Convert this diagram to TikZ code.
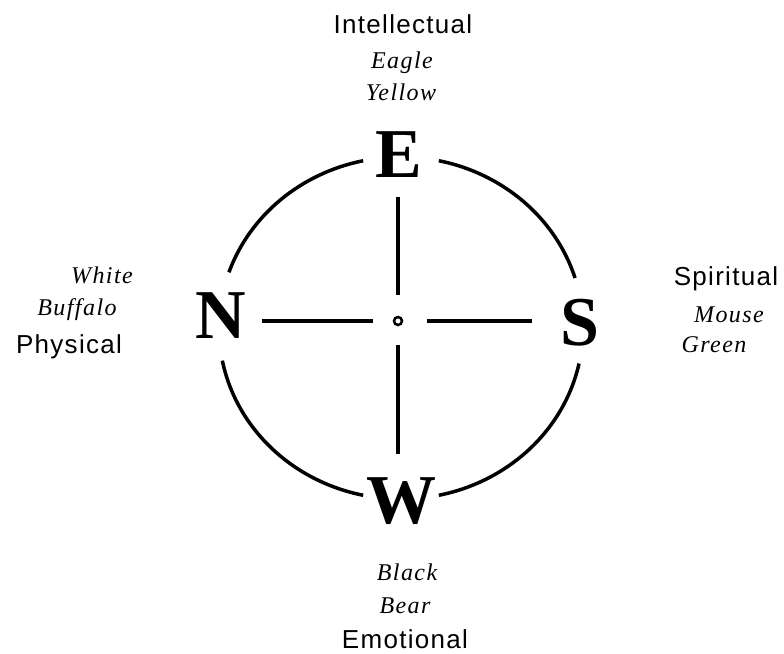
\documentclass[tikz,border=0pt]{standalone}
\usepackage{fontspec}
\setmainfont{Liberation Serif}
\newfontfamily\qualityfont[LetterSpace=5]{Liberation Sans}
\newfontfamily\animalfont[LetterSpace=6]{Liberation Serif}
\usetikzlibrary{calc}

\tikzset{
    compass/.style={font=\fontsize{70}{70}\selectfont\bfseries, inner sep=0pt, anchor=base},
    quality/.style={font=\fontsize{26}{26}\qualityfont, inner sep=0pt, anchor=base},
    animal/.style={font=\fontsize{24}{24}\animalfont\itshape, inner sep=0pt, anchor=base},
    rim/.style={line width=3.5pt},
    spoke/.style={line width=3.5pt},
}

\begin{document}
\begin{tikzpicture}[x=1pt, y=-1pt]
        % --- 1. Parameters ---
        \def\rx{182pt} % rim x radius
        \def\ry{171pt} % rim y radius
        \useasboundingbox (0,0) rectangle (784,653);
        \coordinate (O) at (401,328);

        % --- 2. Compass letters ---
        \node[compass] (E) at (399,177) {E};
        \node[compass] (N) at (221,338) {N};
        \node[compass] (S) at (580,345) {S};
        \node[compass] (W) at (401,523) {W};

        % --- 3. Centre and spokes ---
        \node[circle, draw, line width=2.5pt, fill=white, inner sep=0pt, minimum size=8pt] (dot) at (398,321) {};
        \draw[spoke, shorten <=26pt, shorten >=20pt] (dot.center) -- (dot |- E.south);
        \draw[spoke, shorten <=24pt, shorten >=23pt] (dot.center) -- (dot |- W.north);
        \draw[spoke, shorten <=25pt, shorten >=16pt] (dot.center) -- (dot -| N.east);
        \draw[spoke, shorten <=29pt, shorten >=28pt] (dot.center) -- (dot -| S.west);

        % --- 4. Rim (broken at the letters), canvas angles ---
        \draw[rim] (O) ++(78:{\rx} and {\ry}) arc[start angle=78, end angle=17, x radius=\rx, y radius=\ry];
        \draw[rim] (O) ++(-12:{\rx} and {\ry}) arc[start angle=-12, end angle=-78, x radius=\rx, y radius=\ry];
        \draw[rim] (O) ++(-102:{\rx} and {\ry}) arc[start angle=-102, end angle=-169, x radius=\rx, y radius=\ry];
        \draw[rim] (O) ++(161:{\rx} and {\ry}) arc[start angle=161, end angle=102, x radius=\rx, y radius=\ry];

        % --- 5. Labels ---
        \node[quality] (intellectual) at (403,33) {Intellectual};
        \node[animal] (eagle) at (402,68) {Eagle};
        \node[animal] (yellow) at (401,100) {Yellow};

        \node[quality] (spiritual) at (726,285) {Spiritual};
        \node[animal] (mouse) at (729,322) {Mouse};
        \node[animal] (green) at (714,352) {Green};

        \node[animal] (white) at (102,283) {White};
        \node[animal] (buffalo) at (77,315) {Buffalo};
        \node[quality] (physical) at (69,353) {Physical};

        \node[animal] (black) at (407,580) {Black};
        \node[animal] (bear) at (405,613) {Bear};
        \node[quality] (emotional) at (405,648) {Emotional};
    \end{tikzpicture}
\end{document}
